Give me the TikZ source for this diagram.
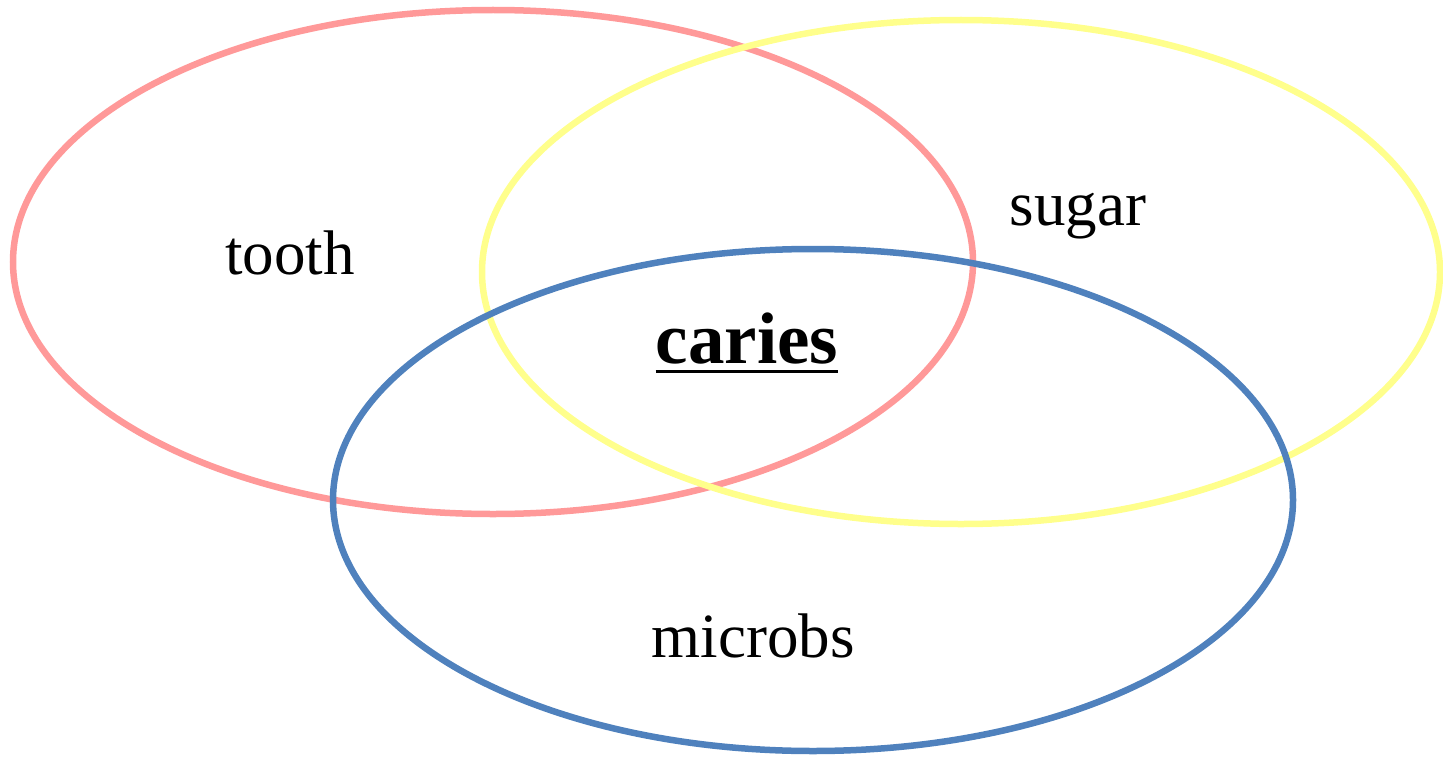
\documentclass[tikz,border=0pt]{standalone}
\usepackage{fontspec}
\setmainfont{Liberation Serif}
\definecolor{redc}{HTML}{FF9999}
\definecolor{yelc}{HTML}{FFFF8C}
\definecolor{bluc}{HTML}{4F81BD}
\begin{document}
\begin{tikzpicture}[x=1pt,y=-1pt,
  ring/.style={line width=6.5pt},
  lbl/.style={font=\fontsize{63}{70}\selectfont, inner sep=0pt}]
\useasboundingbox (0,0) rectangle (1443,760);
\draw[ring, redc] (493,262) ellipse [x radius=480, y radius=252];
\draw[ring, yelc] (961,272) ellipse [x radius=479, y radius=252];
\draw[ring, bluc] (813,500) ellipse [x radius=480, y radius=251];
\node[lbl] (tooth) at (290,253) {tooth};
\node[lbl] (sugar) at (1078,216) {sugar};
\node[lbl] (microbs) at (753,636) {microbs};
\node[lbl, font=\fontsize{73}{80}\selectfont\bfseries] (caries) at (747,339) {caries};
\draw[line width=3pt] ([yshift=-7pt]caries.south west) -- ([yshift=-7pt]caries.south east);
\end{tikzpicture}
\end{document}
